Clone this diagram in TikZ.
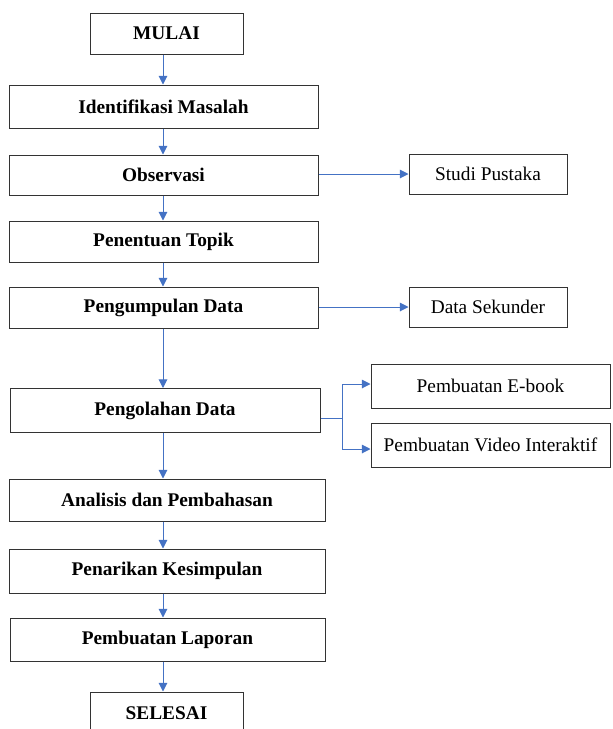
\documentclass[tikz,border=0pt]{standalone}
\usepackage{fontspec}
\setmainfont{Liberation Serif}
\usetikzlibrary{arrows.meta}

\tikzset{every picture/.style={line width=0.75pt}}
\tikzset{
  prosesbox/.style={draw=black!80, fill=white, inner sep=0.75pt, align=center, font=\fontsize{14.5}{17}\selectfont\bfseries},
  sidebox/.style={draw=black!80, fill=white, inner sep=0.75pt, align=center, font=\fontsize{14.5}{17}\selectfont},
  alur/.style={draw={rgb,255:red,68;green,114;blue,196}, -{Triangle[width=6.5pt,length=6.5pt]}}
}

\begin{document}
\begin{tikzpicture}[x=0.75pt,y=0.75pt,yscale=-1,xscale=1]
		\useasboundingbox (0,0) rectangle (612,729);
		
		%Flowchart: Process [id:mulai] 
		\node [prosesbox, minimum width=153*0.75pt, minimum height=41*0.75pt] (mulai) at (166.5,33.5) {MULAI};
		%Flowchart: Process [id:identifikasi] 
		\node [prosesbox, minimum width=309*0.75pt, minimum height=43*0.75pt] (identifikasi) at (163.5,106.5) {Identifikasi Masalah};
		%Flowchart: Process [id:observasi] 
		\node [prosesbox, minimum width=309*0.75pt, minimum height=40*0.75pt] (observasi) at (163.5,175) {Observasi};
		%Flowchart: Process [id:penentuan] 
		\node [prosesbox, minimum width=309*0.75pt, minimum height=41*0.75pt] (penentuan) at (163.5,241.5) {Penentuan Topik};
		%Flowchart: Process [id:pengumpulan] 
		\node [prosesbox, minimum width=309*0.75pt, minimum height=41*0.75pt] (pengumpulan) at (163.5,307.5) {Pengumpulan Data};
		%Flowchart: Process [id:pengolahan] 
		\node [prosesbox, minimum width=310*0.75pt, minimum height=44*0.75pt] (pengolahan) at (165,410.5) {Pengolahan Data};
		%Flowchart: Process [id:analisis] 
		\node [prosesbox, minimum width=316*0.75pt, minimum height=42*0.75pt] (analisis) at (167,500) {Analisis dan Pembahasan};
		%Flowchart: Process [id:penarikan] 
		\node [prosesbox, minimum width=316*0.75pt, minimum height=44*0.75pt] (penarikan) at (167,571) {Penarikan Kesimpulan};
		%Flowchart: Process [id:laporan] 
		\node [prosesbox, minimum width=315*0.75pt, minimum height=43*0.75pt] (laporan) at (167.5,639.5) {Pembuatan Laporan};
		%Flowchart: Process [id:selesai] 
		\node [prosesbox, minimum width=153*0.75pt, minimum height=42*0.75pt] (selesai) at (166.5,713) {SELESAI};
		
		%Shape: Rectangle [id:studi] 
		\node [sidebox, minimum width=158*0.75pt, minimum height=40*0.75pt] (studi) at (488,174) {Studi Pustaka};
		%Shape: Rectangle [id:sekunder] 
		\node [sidebox, minimum width=158*0.75pt, minimum height=40*0.75pt] (sekunder) at (488,307) {Data Sekunder};
		%Shape: Rectangle [id:ebook] 
		\node [sidebox, minimum width=239*0.75pt, minimum height=44*0.75pt] (ebook) at (490.5,386) {Pembuatan E-book};
		%Shape: Rectangle [id:video] 
		\node [sidebox, minimum width=239*0.75pt, minimum height=44*0.75pt] (video) at (490.5,445) {Pembuatan Video Interaktif};
		
		\coordinate (spine) at (163,0);
		\coordinate (cabang) at (342,418);
		
		%Straight Lines with arrow 
		\draw [alur] (mulai.south -| spine) -- (identifikasi.north -| spine);
		\draw [alur] (identifikasi.south -| spine) -- (observasi.north -| spine);
		\draw [alur] (observasi.south -| spine) -- (penentuan.north -| spine);
		\draw [alur] (penentuan.south -| spine) -- (pengumpulan.north -| spine);
		\draw [alur] (pengumpulan.south -| spine) -- (pengolahan.north -| spine);
		\draw [alur] (pengolahan.south -| spine) -- (analisis.north -| spine);
		\draw [alur] (analisis.south -| spine) -- (penarikan.north -| spine);
		\draw [alur] (penarikan.south -| spine) -- (laporan.north -| spine);
		\draw [alur] (laporan.south -| spine) -- (selesai.north -| spine);
		
		%Straight Lines to the side boxes 
		\draw [alur] (observasi.east |- studi) -- (studi.west);
		\draw [alur] (pengumpulan.east |- sekunder) -- (sekunder.west);
		\draw [alur, -] (pengolahan.east |- cabang) -- (cabang);
		\draw [alur] (cabang) |- ([yshift=-1.5pt]ebook.west);
		\draw [alur] (cabang) |- ([yshift=3pt]video.west);
		
	\end{tikzpicture}
\end{document}
